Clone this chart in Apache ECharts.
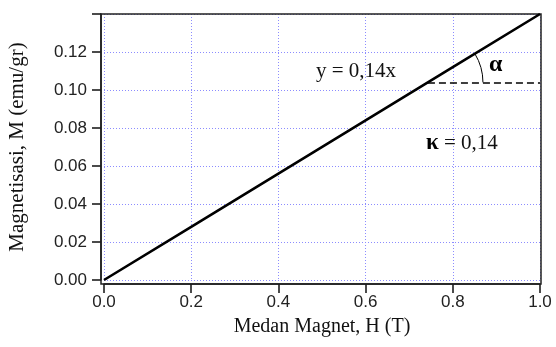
<!DOCTYPE html>
<html>
<head>
<meta charset="utf-8">
<script src="https://cdn.jsdelivr.net/npm/echarts@6/dist/echarts.min.js"></script>
<style>html,body{margin:0;padding:0;background:#fff}#c{width:556px;height:347px}</style>
</head>
<body>
<div id="c"></div>
<script>
// Data
const fieldH = [0.0, 0.2, 0.4, 0.6, 0.8, 1.0];
const magnetM = [0.0, 0.028, 0.056, 0.084, 0.112, 0.14];
const xTicks = [0.0, 0.2, 0.4, 0.6, 0.8, 1.0];
const yTicks = [0.00, 0.02, 0.04, 0.06, 0.08, 0.10, 0.12];
const slopeLineStart = [0.743, 0.104];
const slopeLineEnd = [1.0, 0.104];
const fitLabel = 'y = 0,14x';
const kappaValue = '0,14';

const chart = echarts.init(document.getElementById('c'), null, {renderer: 'canvas'});
const axisCol = '#111';
const gridStyle = {show: true, lineStyle: {color: '#8c8cff', type: [1, 2], width: 1}};
const option = {
  animation: false,
  grid: {left: 104, right: 16, top: 14, bottom: 67, containLabel: false, outerBoundsMode: 'none'},
  xAxis: [{
    type: 'value', min: 0, max: 1, interval: 0.2, offset: 4,
    axisLine: {show: true, onZero: false, lineStyle: {color: axisCol, width: 1.5}},
    axisTick: {show: true, inside: false, length: 9, lineStyle: {color: axisCol, width: 1.5}},
    axisLabel: {color: '#222', fontFamily: 'Liberation Sans', fontSize: 17, margin: 10,
      formatter: v => v.toFixed(1)},
    splitLine: gridStyle,
    name: 'Medan Magnet, H (T)', nameLocation: 'middle', nameGap: 33,
    nameTextStyle: {fontFamily: 'Liberation Serif', fontSize: 20, color: '#111'}
  }],
  yAxis: [{
    type: 'value', min: 0, max: 0.14, interval: 0.02, offset: 3,
    axisLine: {show: true, onZero: false, lineStyle: {color: axisCol, width: 1.5}},
    axisTick: {show: true, inside: false, length: 9, lineStyle: {color: axisCol, width: 1.5}},
    axisLabel: {color: '#222', fontFamily: 'Liberation Sans', fontSize: 17, margin: 14,
      formatter: v => (v > 0.135 ? '' : v.toFixed(2))},
    splitLine: gridStyle,
    name: 'Magnetisasi, M (emu/gr)', nameLocation: 'middle', nameGap: 73,
    nameTextStyle: {fontFamily: 'Liberation Serif', fontSize: 21, color: '#111'}
  }],
  series: [{
    type: 'line',
    data: fieldH.map((h, i) => [h, magnetM[i]]),
    showSymbol: false,
    lineStyle: {color: '#000', width: 2.6},
    markLine: {
      silent: true, symbol: 'none', label: {show: false},
      lineStyle: {color: '#000', type: [7, 4], width: 1.6},
      data: [[{coord: slopeLineStart}, {coord: slopeLineEnd}]]
    },
    z: 5
  }]
};
chart.setOption(option);

const p0 = chart.convertToPixel({xAxisIndex: 0, yAxisIndex: 0}, slopeLineStart);
const p1 = chart.convertToPixel({xAxisIndex: 0, yAxisIndex: 0}, [fieldH[fieldH.length-1], magnetM[magnetM.length-1]]);
const pa = chart.convertToPixel({xAxisIndex: 0, yAxisIndex: 0}, [fieldH[0], magnetM[0]]);
const ang = Math.atan2(pa[1] - p1[1], p1[0] - pa[0]);
const r = 55;
chart.setOption({
  graphic: [
    {type: 'rect', shape: {x: 101, y: 14, width: 440, height: 270},
      style: {stroke: '#222', lineWidth: 1.5, fill: null}, silent: true, z: 1},
    {type: 'arc', shape: {cx: p0[0], cy: p0[1], r: r, startAngle: -ang, endAngle: 0},
      style: {stroke: '#000', lineWidth: 1, fill: null}, silent: true},
    {type: 'text', x: 489, y: 53,
      style: {text: 'α', font: 'bold 24px "Liberation Serif"', fill: '#000'}},
    {type: 'text', x: 316, y: 61,
      style: {text: fitLabel, font: '21px "Liberation Serif"', fill: '#111'}},
    {type: 'text', x: 426, y: 132,
      style: {rich: {k: {font: 'bold 23px "Liberation Serif"', fill: '#000'}, t: {font: '21px "Liberation Serif"', fill: '#111'}},
        text: '{k|κ}{t| = ' + kappaValue + '}'}}
  ]
});
</script>
</body>
</html>
